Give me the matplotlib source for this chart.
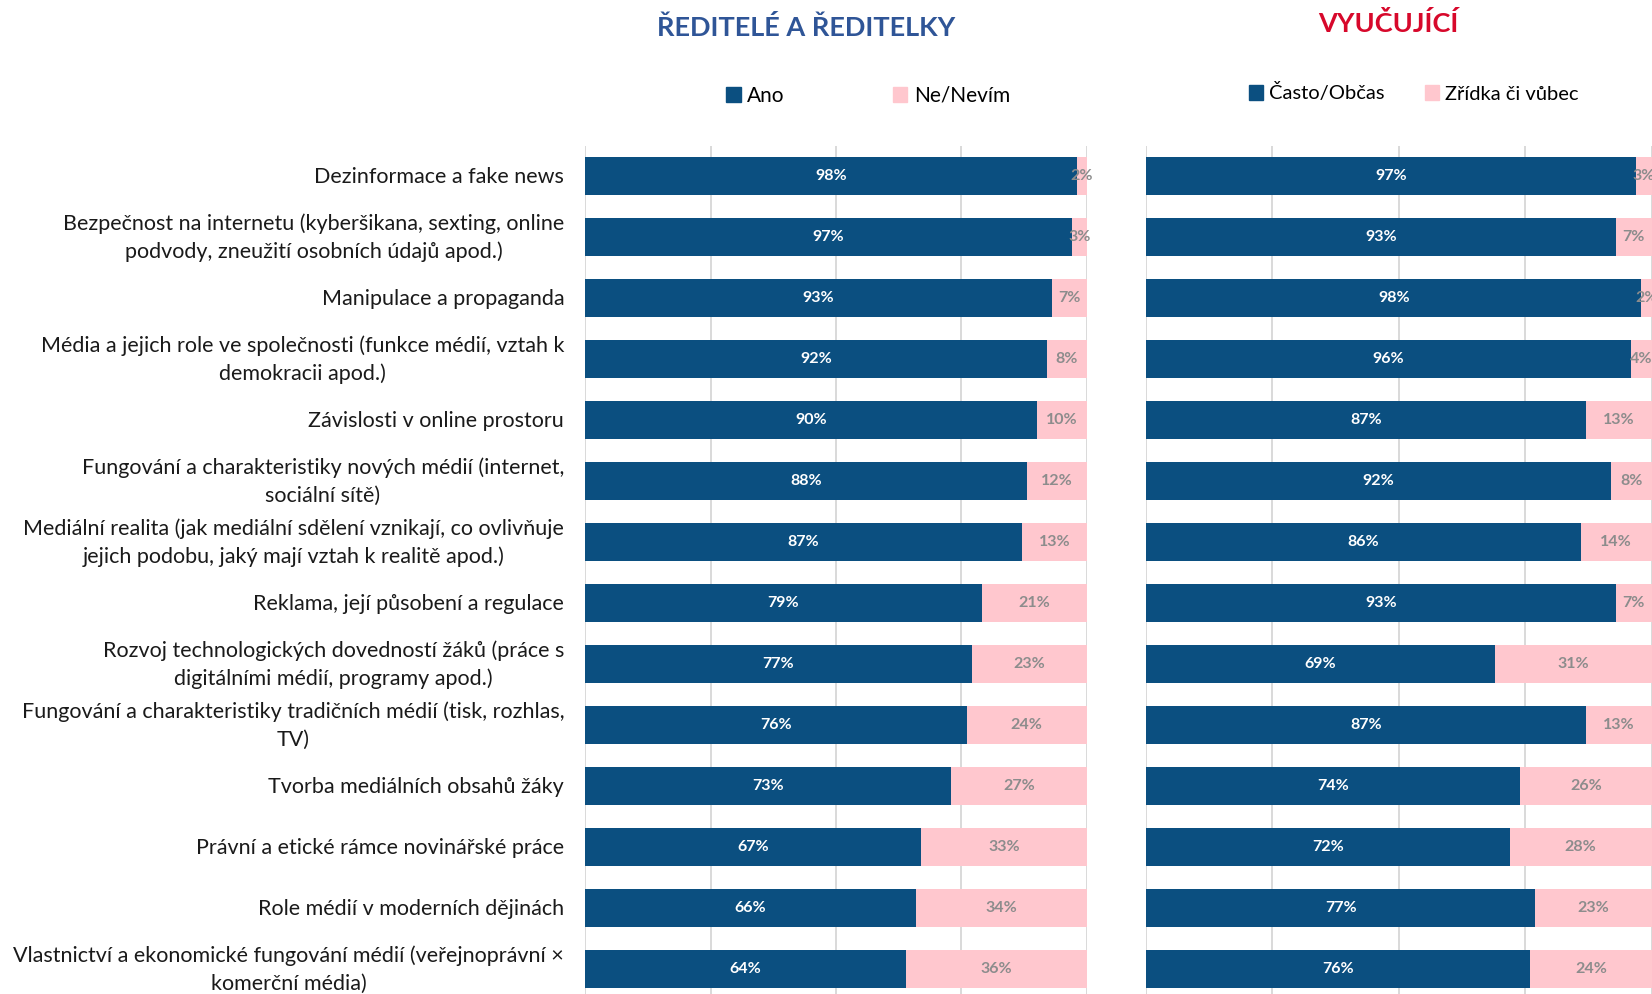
import matplotlib
matplotlib.use("Agg")
import matplotlib.pyplot as plt
from matplotlib.patches import Patch
import numpy as np

plt.rcParams['font.family'] = ['Lato', 'DejaVu Sans']

categories = [
    "Dezinformace a fake news",
    "Bezpečnost na internetu (kyberšikana, sexting, online\npodvody, zneužití osobních údajů apod.)",
    "Manipulace a propaganda",
    "Média a jejich role ve společnosti (funkce médií, vztah k\ndemokracii apod.)",
    "Závislosti v online prostoru",
    "Fungování a charakteristiky nových médií (internet,\nsociální sítě)",
    "Mediální realita (jak mediální sdělení vznikají, co ovlivňuje\njejich podobu, jaký mají vztah k realitě apod.)",
    "Reklama, její působení a regulace",
    "Rozvoj technologických dovedností žáků (práce s\ndigitálními médií, programy apod.)",
    "Fungování a charakteristiky tradičních médií (tisk, rozhlas,\nTV)",
    "Tvorba mediálních obsahů žáky",
    "Právní a etické rámce novinářské práce",
    "Role médií v moderních dějinách",
    "Vlastnictví a ekonomické fungování médií (veřejnoprávní ×\nkomerční média)",
]

reditele_ano = [98, 97, 93, 92, 90, 88, 87, 79, 77, 76, 73, 67, 66, 64]
reditele_ne = [2, 3, 7, 8, 10, 12, 13, 21, 23, 24, 27, 33, 34, 36]
vyucujici_casto = [97, 93, 98, 96, 87, 92, 86, 93, 69, 87, 74, 72, 77, 76]
vyucujici_zridka = [3, 7, 2, 4, 13, 8, 14, 7, 31, 13, 26, 28, 23, 24]

left_title = "ŘEDITELÉ A ŘEDITELKY"
right_title = "VYUČUJÍCÍ"
left_legend = ["Ano", "Ne/Nevím"]
right_legend = ["Často/Občas", "Zřídka či vůbec"]

BLUE = "#0B4F80"
PINK = "#FFC7CE"
GRID = "#D9D9D9"

W, H = 1652, 994
fig = plt.figure(figsize=(W / 100, H / 100), dpi=100)

row_px = 61
top_px = 145.5
ax_h_px = row_px * len(categories)
bottom = 1 - (top_px + ax_h_px) / H
height = ax_h_px / H

axL = fig.add_axes([585 / W, bottom, 502 / W, height])
axR = fig.add_axes([1146 / W, bottom, 505.5 / W, height])

y = np.arange(len(categories))


def draw(ax, a, b):
    ax.set_xlim(0, 100)
    ax.set_ylim(len(categories) - 0.5, -0.5)
    for gx in [0, 25, 50, 75, 100]:
        ax.axvline(gx, color=GRID, lw=1.4, zorder=0)
    b1 = ax.barh(y, a, height=0.61, color=BLUE, zorder=2)
    b2 = ax.barh(y, b, left=a, height=0.61, color=PINK, zorder=2)
    ax.bar_label(b1, labels=[f"{v}%" for v in a], label_type='center',
                 color='white', fontsize=11.5, fontweight='bold')
    ax.bar_label(b2, labels=[f"{v}%" for v in b], label_type='center',
                 color='#8C8C8C', fontsize=11.5, fontweight='bold')
    for s in ax.spines.values():
        s.set_visible(False)
    ax.set_xticks([])
    ax.set_yticks([])


draw(axL, reditele_ano, reditele_ne)
draw(axR, vyucujici_casto, vyucujici_zridka)

for yi, cat in zip(y, categories):
    axL.annotate(cat, xy=(0, yi), xycoords=('axes fraction', 'data'),
                 xytext=(-15, -0.5), textcoords='offset points',
                 ha='right', va='center', multialignment='center',
                 linespacing=1.45, fontsize=15.5, color='#1a1a1a',
                 annotation_clip=False)

fig.text(806 / W, 1 - 27 / H, left_title, ha='center', va='center',
         fontsize=19.5, fontweight='bold', color='#2F5597')
fig.text(1388 / W, 1 - 23 / H, right_title, ha='center', va='center',
         fontsize=19.5, fontweight='bold', color='#D7082B')

hL = [Patch(color=BLUE), Patch(color=PINK)]
fig.legend(hL, left_legend, loc='center', bbox_to_anchor=(868 / W, 1 - 96 / H),
           ncol=2, frameon=False, fontsize=15, handlelength=0.7, handleheight=0.7,
           handletextpad=0.3, columnspacing=5.2)
fig.legend(hL, right_legend, loc='center', bbox_to_anchor=(1414 / W, 1 - 93 / H),
           ncol=2, frameon=False, fontsize=14.5, handlelength=0.7, handleheight=0.7,
           handletextpad=0.3, columnspacing=2.0)

fig.savefig("out.png", dpi=100)
